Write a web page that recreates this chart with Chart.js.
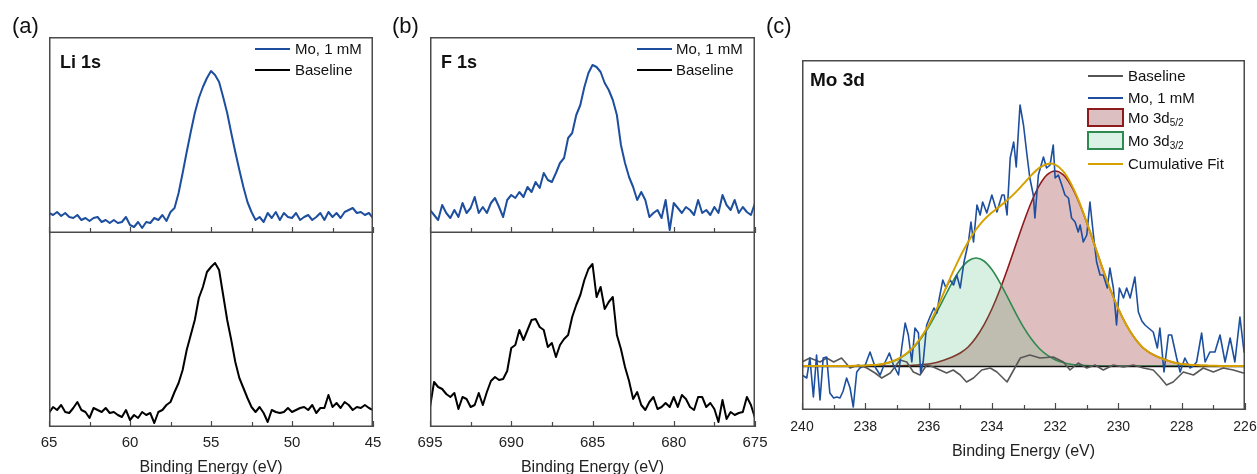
<!DOCTYPE html>
<html><head><meta charset="utf-8">
<script src="https://cdn.jsdelivr.net/npm/chart.js@4.4.0/dist/chart.umd.min.js"></script>
<style>
html,body{margin:0;padding:0;background:#fff;}
body{width:1257px;height:474px;position:relative;overflow:hidden;font-family:"Liberation Sans",Arial,sans-serif;color:#111;}
canvas{position:absolute;}
.t{position:absolute;white-space:nowrap;line-height:1;}
.lab{font-size:22px;}
.ttl{font-weight:bold;}
.lg{font-size:15px;}
.ln{position:absolute;height:2px;}
.bx{position:absolute;box-sizing:border-box;border-width:2px;border-style:solid;}
sub{font-size:10px;vertical-align:-3px;line-height:0;}
</style></head><body>
<canvas id="cA1" width="374" height="196" style="left:24px;top:37px"></canvas>
<canvas id="cA2" width="374" height="244" style="left:24px;top:233px"></canvas>
<canvas id="cB1" width="375" height="196" style="left:405px;top:37px"></canvas>
<canvas id="cB2" width="375" height="244" style="left:405px;top:233px"></canvas>
<canvas id="cC" width="480" height="414" style="left:777px;top:60px"></canvas>

<div class="t lab" style="left:12px;top:15px">(a)</div>
<div class="t lab" style="left:392px;top:15px">(b)</div>
<div class="t lab" style="left:766px;top:15px">(c)</div>
<div class="t ttl" style="left:60px;top:53px;font-size:18px">Li 1s</div>
<div class="t ttl" style="left:441px;top:53px;font-size:18px">F 1s</div>
<div class="t ttl" style="left:810px;top:70px;font-size:19px">Mo 3d</div>

<div class="ln" style="left:255px;top:48px;width:35px;background:#1d4f9e"></div>
<div class="t lg" style="left:295px;top:41px">Mo, 1 mM</div>
<div class="ln" style="left:255px;top:69px;width:35px;background:#000"></div>
<div class="t lg" style="left:295px;top:62px">Baseline</div>

<div class="ln" style="left:637px;top:48px;width:35px;background:#1d4f9e"></div>
<div class="t lg" style="left:676px;top:41px">Mo, 1 mM</div>
<div class="ln" style="left:637px;top:69px;width:35px;background:#000"></div>
<div class="t lg" style="left:676px;top:62px">Baseline</div>

<div class="ln" style="left:1088px;top:75px;width:35px;background:#555"></div>
<div class="t lg" style="left:1128px;top:68px">Baseline</div>
<div class="ln" style="left:1088px;top:97px;width:35px;background:#1d4f9e"></div>
<div class="t lg" style="left:1128px;top:90px">Mo, 1 mM</div>
<div class="bx" style="left:1087px;top:108px;width:37px;height:19px;border-color:#8e1b1b;background:#dcbfc0"></div>
<div class="t lg" style="left:1128px;top:110px">Mo 3d<sub>5/2</sub></div>
<div class="bx" style="left:1087px;top:131px;width:37px;height:19px;border-color:#2e8a4e;background:#dcf2e6"></div>
<div class="t lg" style="left:1128px;top:133px">Mo 3d<sub>3/2</sub></div>
<div class="ln" style="left:1088px;top:163px;width:35px;background:#d6a100"></div>
<div class="t lg" style="left:1128px;top:156px">Cumulative Fit</div>

<script>
// ---------- Panel (a) Li 1s ----------
const eA = [65,64.75,64.5,64.25,64,63.75,63.5,63.25,63,62.75,62.5,62.25,62,61.75,61.5,61.25,61,60.75,60.5,60.25,60,59.75,59.5,59.25,59,58.75,58.5,58.25,58,57.75,57.5,57.25,57,56.75,56.5,56.25,56,55.75,55.5,55.25,55,54.75,54.5,54.25,54,53.75,53.5,53.25,53,52.75,52.5,52.25,52,51.75,51.5,51.25,51,50.75,50.5,50.25,50,49.75,49.5,49.25,49,48.75,48.5,48.25,48,47.75,47.5,47.25,47,46.75,46.5,46.25,46,45.75,45.5,45.25,45];
const liMo = [20,18,21,17,20,16,15,18,13,15,12,15,16,11,13,10,13,10,11,16,8,6,11,5,11,10,15,13,18,12,21,25,40,60,81,101,120,135,146,155,162,158,151,136,120,100,81,63,46,31,21,13,16,11,20,15,21,13,20,16,15,20,13,16,18,13,16,20,13,21,16,20,15,21,23,25,20,21,18,20,15];
const liBase = [14,20,17,22,15,14,19,25,17,15,9,19,17,15,19,14,15,12,10,17,7,12,9,15,12,14,4,15,17,22,25,35,44,57,77,92,107,129,140,155,160,164,157,132,107,87,65,49,39,29,20,15,20,14,5,17,15,14,15,19,15,17,19,20,17,22,14,19,19,32,20,24,19,25,22,17,20,19,22,19,17];
const majorA = [65,60,55,50,45];
const minorA = [62.5,57.5,52.5,47.5];

// ---------- Panel (b) F 1s ----------
const eB = [695,694.75,694.5,694.25,694,693.75,693.5,693.25,693,692.75,692.5,692.25,692,691.75,691.5,691.25,691,690.75,690.5,690.25,690,689.75,689.5,689.25,689,688.75,688.5,688.25,688,687.75,687.5,687.25,687,686.75,686.5,686.25,686,685.75,685.5,685.25,685,684.75,684.5,684.25,684,683.75,683.5,683.25,683,682.75,682.5,682.25,682,681.75,681.5,681.25,681,680.75,680.5,680.25,680,679.75,679.5,679.25,679,678.75,678.5,678.25,678,677.75,677.5,677.25,677,676.75,676.5,676.25,676,675.75,675.5,675.25,675];
const fMo = [23,18,13,28,20,15,23,16,30,20,25,36,20,26,20,30,35,26,16,33,38,35,41,36,46,41,51,45,60,53,51,60,70,75,95,100,118,128,146,160,168,166,161,150,143,133,118,88,70,56,46,33,41,33,16,20,23,15,33,3,30,25,20,26,23,18,33,20,23,18,26,20,38,28,23,33,20,26,21,18,30];
const fBase = [20,45,40,38,33,30,34,18,30,28,20,22,34,22,35,46,50,47,48,56,79,82,97,87,97,107,108,100,97,80,84,70,82,88,92,110,122,132,147,158,163,130,140,118,125,130,92,78,60,46,28,35,22,17,25,30,18,20,24,20,30,20,32,28,20,17,30,30,20,24,18,5,27,8,15,12,14,15,30,22,9];
const majorB = [695,690,685,680,675];
const minorB = [692.5,687.5,682.5,677.5];

// ---------- Panel (c) Mo 3d ----------
const eFit = [240,239.75,239.5,239.25,239,238.75,238.5,238.25,238,237.75,237.5,237.25,237,236.75,236.5,236.25,236,235.75,235.5,235.25,235,234.75,234.5,234.25,234,233.75,233.5,233.25,233,232.75,232.5,232.25,232,231.75,231.5,231.25,231,230.75,230.5,230.25,230,229.75,229.5,229.25,229,228.75,228.5,228.25,228,227.75,227.5,227.25,227,226.75,226.5,226.25,226];
const mo52 = [0,0,0,0,0,0,0,0,0,0,0,0,0.2,0.4,0.7,1.2,2,3.5,6,9,13,19,28.5,41.1,57,76,97.6,120.5,143.3,164,180.6,191.3,195,191.3,180.6,164,143.3,120.5,97.6,76,57,41.1,28.5,19,13,9,6,3.5,2,1.2,0.7,0.4,0.2,0,0,0,0];
const mo32 = [0,0,0,0,0,0,0,0.2,0.4,0.9,1.8,3.5,6.3,10.8,17.5,26.9,38.8,53.1,68.6,83.6,96.4,105,108,105,96.4,83.6,68.6,53.1,38.8,26.9,17.5,10.8,6.3,3.5,1.8,0.9,0.4,0.2,0,0,0,0,0,0,0,0,0,0,0,0,0,0,0,0,0,0,0];
const cumFit = [0,0,0,0,0,0,0,0.2,0.4,0.9,1.8,3.5,6.5,11.2,18.2,28.1,40.8,56.6,74.6,92.6,109.4,124,136.5,146.1,153.4,159.6,166.2,173.6,182.1,190.9,198.1,202.1,201.3,194.8,182.4,164.9,143.7,120.7,97.6,76,57,41.1,28.5,19,13,9,6,3.5,2,1.2,0.7,0.4,0.2,0,0,0,0];
const eMoC = [240,239.85,239.75,239.64,239.54,239.43,239.33,239.22,239.12,239,238.9,238.8,238.7,238.59,238.48,238.38,238.27,238.17,238,237.85,237.69,237.53,237.37,237.24,237.11,236.95,236.85,236.74,236.64,236.53,236.43,236.32,236.25,236.17,236.06,235.93,235.83,235.74,235.66,235.55,235.45,235.32,235.21,235.11,235,234.88,234.74,234.66,234.58,234.47,234.37,234.29,234.16,234,233.84,233.68,233.61,233.52,233.42,233.31,233.23,233.11,233,232.89,232.8,232.69,232.64,232.53,232.37,232.27,232.16,232.06,232,231.9,231.79,231.69,231.58,231.48,231.37,231.27,231.21,231.11,231,230.9,230.79,230.69,230.58,230.48,230.35,230.27,230.16,230.06,229.97,229.84,229.74,229.63,229.48,229.37,229.26,229.16,229.05,228.9,228.77,228.69,228.56,228.42,228.32,228.16,228.05,227.9,227.74,227.63,227.53,227.37,227.26,227.11,226.95,226.79,226.63,226.47,226.32,226.16,226.03,226];
const moC = [-9,-12,8,-31,11,-34,8,9,-27,-32,-31,-32,-25,-12,-22,-41,-6,-2,1,14,-1,-9,4,13,1,-9,18,43,31,4,38,33,-7,4,41,51,58,53,68,86,78,86,81,91,78,104,124,144,124,161,151,164,153,171,154,171,171,151,208,224,199,261,241,211,188,171,148,191,209,198,201,221,188,191,181,171,168,148,144,134,141,124,131,164,131,104,91,91,78,98,78,41,78,68,78,68,89,54,45,41,38,34,18,38,-6,31,31,8,-6,8,-2,0,4,33,4,14,14,31,4,28,4,49,14,13];
const eBaseC = [240,239.75,239.43,239.22,239,238.75,238.48,238.22,237.95,237.69,237.48,237.21,236.9,236.69,236.48,236.27,236.06,235.85,235.64,235.43,235.22,235,234.8,234.58,234.32,234.05,233.84,233.52,233.31,233.1,232.8,232.48,232.06,231.74,231.53,231.27,231,230.74,230.48,230.16,229.84,229.53,229.21,228.9,228.69,228.48,228.27,227.95,227.63,227.32,227,226.69,226.37,226.05,226];
const baseC = [4,8,4,8,4,8,-2,1,-2,-7,-12,-7,6,4,-6,-9,1,-1,-4,-7,-4,-9,-16,-12,-4,-2,-6,-16,-4,8,11,8,9,4,-4,3,-2,1,-4,1,-1,1,-2,-4,-11,-19,-16,-6,-9,-2,-6,-2,-4,-7,-7];
const majorC = [240,238,236,234,232,230,228,226];
const minorC = [239,237,235,233,231,229,227];

const BLUE = '#1d4f9e';
const FONT = '"Liberation Sans", Arial, sans-serif';
const pts = (xs, ys) => xs.map((x, i) => ({x: x, y: ys[i]}));

const framePlugin = {
  id: 'frame',
  beforeDatasetDraw(chart, args, opts) {
    if (opts.zeroBefore === args.index) {
      const {ctx, chartArea: a, scales} = chart;
      const y = Math.round(scales.y.getPixelForValue(0)) + 0.5;
      ctx.save();
      ctx.strokeStyle = '#111'; ctx.lineWidth = 1.3;
      ctx.beginPath(); ctx.moveTo(a.left, y); ctx.lineTo(a.right, y); ctx.stroke();
      ctx.restore();
    }
  },
  afterDatasetsDraw(chart, args, opts) {
    const {ctx, chartArea: a, scales} = chart;
    const h = 0.75;
    ctx.save();
    ctx.strokeStyle = '#4a4a4a'; ctx.lineWidth = 1.5;
    ctx.beginPath();
    if (opts.top) { ctx.moveTo(a.left, a.top + h); ctx.lineTo(a.right, a.top + h); }
    ctx.moveTo(a.left + h, a.top); ctx.lineTo(a.left + h, a.bottom);
    ctx.moveTo(a.right - h, a.top); ctx.lineTo(a.right - h, a.bottom);
    ctx.moveTo(a.left, a.bottom - h); ctx.lineTo(a.right, a.bottom - h);
    ctx.stroke();
    ctx.lineWidth = 1.2;
    ctx.beginPath();
    for (const v of opts.major) {
      const x = Math.round(scales.x.getPixelForValue(v)) + 0.5;
      ctx.moveTo(x, a.bottom); ctx.lineTo(x, a.bottom - opts.majorLen);
    }
    for (const v of opts.minor) {
      const x = Math.round(scales.x.getPixelForValue(v)) + 0.5;
      ctx.moveTo(x, a.bottom); ctx.lineTo(x, a.bottom - opts.minorLen);
    }
    ctx.stroke();
    ctx.restore();
  }
};

function makeChart(id, cfg) {
  const xAxis = {
    type: 'linear', min: cfg.xmin, max: cfg.xmax, reverse: true,
    display: cfg.showX, position: 'bottom',
    grid: {display: false, drawTicks: false}, border: {display: false},
    ticks: {stepSize: cfg.step, color: '#222', font: {family: FONT, size: cfg.tickSize}, padding: cfg.tickPad, maxRotation: 0, autoSkip: false},
    title: {display: cfg.showX, text: 'Binding Energy (eV)', color: '#222', font: {family: FONT, size: 16}, padding: {top: 0, bottom: cfg.titlePad}},
    afterFit: (s) => { if (cfg.showX) { s.height = cfg.axisH; } s.paddingLeft = 0; s.paddingRight = 0; }
  };
  return new Chart(document.getElementById(id), {
    type: 'line',
    data: {datasets: cfg.datasets},
    options: {
      responsive: false, animation: false, devicePixelRatio: 1,
      layout: {padding: cfg.pad},
      events: [],
      elements: {point: {radius: 0}, line: {tension: 0, borderJoinStyle: 'round'}},
      scales: {x: xAxis, y: {type: 'linear', display: false, min: cfg.ymin, max: cfg.ymax}},
      plugins: {legend: {display: false}, tooltip: {enabled: false},
        frame: {top: cfg.top, major: cfg.major, minor: cfg.minor, majorLen: cfg.majorLen, minorLen: cfg.minorLen, zeroBefore: cfg.zeroBefore}}
    },
    plugins: [framePlugin]
  });
}

const line = (data, color, w, extra) => Object.assign({data: data, borderColor: color, borderWidth: w, fill: false}, extra || {});

makeChart('cA1', {xmin: 45, xmax: 65, step: 5, showX: false, ymin: 0, ymax: 196, pad: {left: 25, right: 25, top: 0, bottom: 0},
  top: true, major: majorA, minor: minorA, majorLen: 6, minorLen: 5,
  datasets: [line(pts(eA, liMo), BLUE, 2)]});
makeChart('cA2', {xmin: 45, xmax: 65, step: 5, showX: true, tickSize: 15, tickPad: 7, titlePad: 0, axisH: 50, ymin: 0, ymax: 194, pad: {left: 25, right: 25, top: 0, bottom: 0},
  top: false, major: majorA, minor: minorA, majorLen: 6, minorLen: 5,
  datasets: [line(pts(eA, liBase), '#000', 2)]});
makeChart('cB1', {xmin: 675, xmax: 695, step: 5, showX: false, ymin: 0, ymax: 196, pad: {left: 25, right: 25, top: 0, bottom: 0},
  top: true, major: majorB, minor: minorB, majorLen: 6, minorLen: 5,
  datasets: [line(pts(eB, fMo), BLUE, 2)]});
makeChart('cB2', {xmin: 675, xmax: 695, step: 5, showX: true, tickSize: 15, tickPad: 7, titlePad: 0, axisH: 50, ymin: 0, ymax: 194, pad: {left: 25, right: 25, top: 0, bottom: 0},
  top: false, major: majorB, minor: minorB, majorLen: 6, minorLen: 5,
  datasets: [line(pts(eB, fBase), '#000', 2)]});
makeChart('cC', {xmin: 226, xmax: 240, step: 2, showX: true, tickSize: 14, tickPad: 9, titlePad: 13, axisH: 64, ymin: -44, ymax: 306, pad: {left: 25, right: 12, top: 0, bottom: 0},
  top: true, major: majorC, minor: minorC, majorLen: 7, minorLen: 5, zeroBefore: 2,
  datasets: [
    line(pts(eFit, cumFit), '#d6a100', 2, {order: 0, tension: 0.3}),
    line(pts(eMoC, moC), BLUE, 1.6, {order: 1}),
    line(pts(eBaseC, baseC), '#585858', 1.6, {order: 2}),
    line(pts(eFit, mo32), '#2e8a4e', 1.6, {order: 3, tension: 0.3, fill: 'origin', backgroundColor: 'rgba(60,180,110,0.2)'}),
    line(pts(eFit, mo52), '#8e1b1b', 1.6, {order: 4, tension: 0.3, fill: 'origin', backgroundColor: 'rgba(150,40,45,0.3)'})
  ]});
</script>
</body></html>
